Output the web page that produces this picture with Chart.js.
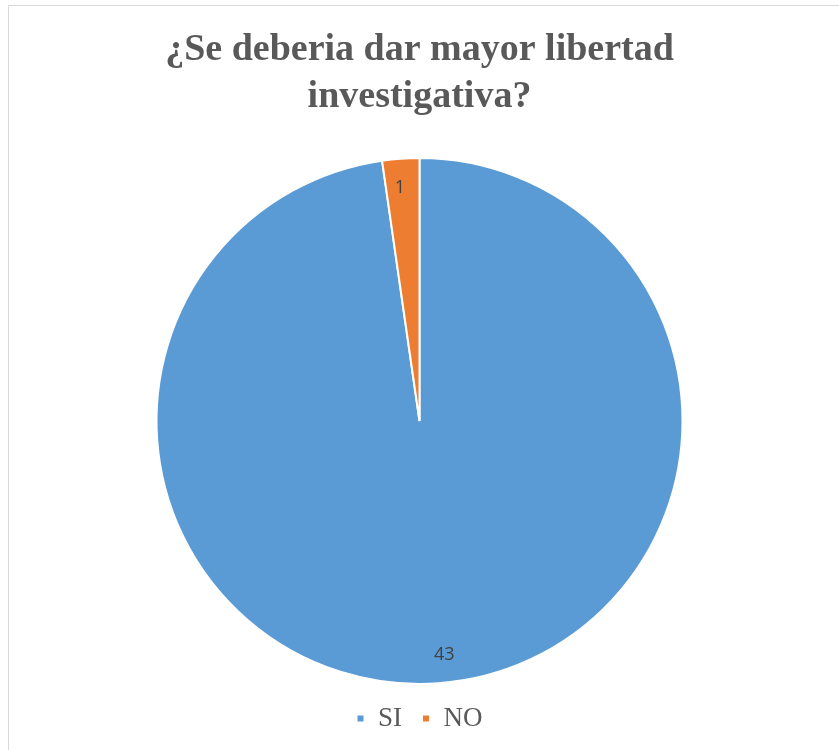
<!DOCTYPE html>
<html>
<head>
<meta charset="utf-8">
<script src="https://cdn.jsdelivr.net/npm/chart.js@4"></script>
<style>
  html, body { margin: 0; padding: 0; background: #fff; }
  #frame {
    position: absolute; left: 8px; top: 5px;
    width: 900px; height: 800px;
    border: 1px solid #d9d9d9; box-sizing: border-box;
  }
  #wrap { position: absolute; left: 0; top: 0; width: 839px; height: 750px; }
</style>
</head>
<body>
<div id="frame"></div>
<div id="wrap"><canvas id="pie_chart"></canvas></div>
<script>
const categories = ["SI", "NO"];
const values = [43, 1];
const colors = ["#5B9BD5", "#ED7D31"];
const title_lines = ["¿Se deberia dar mayor libertad", "investigativa?"];

// etiquetas dentro de cada porcion
const slice_labels = {
  id: "slice_labels",
  afterDatasetsDraw(chart) {
    const { ctx } = chart;
    const meta = chart.getDatasetMeta(0);
    ctx.save();
    ctx.font = "18px 'Open Sans', 'DejaVu Sans', sans-serif";
    ctx.fillStyle = "#404040";
    ctx.textAlign = "center";
    ctx.textBaseline = "middle";
    meta.data.forEach((arc, i) => {
      const mid = (arc.startAngle + arc.endAngle) / 2;
      const r = arc.outerRadius * 0.89;
      const dx = i === 0 ? 8 : -3; // ajuste "best fit"
      ctx.fillText(String(values[i]), arc.x + Math.cos(mid) * r + dx, arc.y + Math.sin(mid) * r);
    });
    ctx.restore();
  },
};

const ctx = document.getElementById("pie_chart");

new Chart(ctx, {
  type: "pie",
  data: {
    labels: categories,
    datasets: [
      {
        data: values,
        backgroundColor: colors,
        borderColor: "#fff",
        borderWidth: 2,
      },
    ],
  },
  options: {
    responsive: true,
    maintainAspectRatio: false,
    animation: false,
    layout: { padding: { top: 14, bottom: 8 } },
    plugins: {
      title: {
        display: true,
        text: title_lines,
        color: "#595959",
        font: { family: "'Liberation Serif', 'Times New Roman', serif", size: 38, weight: "bold", lineHeight: 1.25 },
        padding: { top: 12, bottom: 36 },
      },
      legend: {
        position: "bottom",
        labels: {
          color: "#595959",
          font: { family: "'Liberation Serif', 'Times New Roman', serif", size: 27 },
          boxWidth: 8,
          boxHeight: 8,
          padding: 20,
        },
      },
      tooltip: { enabled: false },
    },
  },
  plugins: [slice_labels],
});
</script>
</body>
</html>
